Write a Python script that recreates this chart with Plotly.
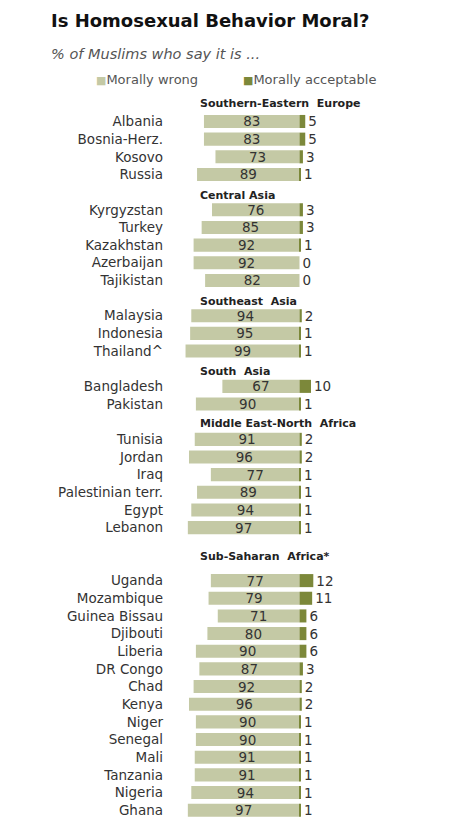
import plotly.graph_objects as go

# regions in display order, and how many countries each one holds
regions = ["Southern-Eastern\u00a0 Europe", "Central Asia", "Southeast\u00a0 Asia",
           "South\u00a0 Asia", "Middle East-North\u00a0 Africa", "Sub-Saharan\u00a0 Africa*"]
region_sizes = [4, 5, 3, 2, 6, 14]

countries = ["Albania", "Bosnia-Herz.", "Kosovo", "Russia",
             "Kyrgyzstan", "Turkey", "Kazakhstan", "Azerbaijan", "Tajikistan",
             "Malaysia", "Indonesia", "Thailand^",
             "Bangladesh", "Pakistan",
             "Tunisia", "Jordan", "Iraq", "Palestinian terr.", "Egypt", "Lebanon",
             "Uganda", "Mozambique", "Guinea Bissau", "Djibouti", "Liberia", "DR Congo",
             "Chad", "Kenya", "Niger", "Senegal", "Mali", "Tanzania", "Nigeria", "Ghana"]
wrong = [83, 83, 73, 89,
         76, 85, 92, 92, 82,
         94, 95, 99,
         67, 90,
         91, 96, 77, 89, 94, 97,
         77, 79, 71, 80, 90, 87, 92, 96, 90, 90, 91, 91, 94, 97]
acceptable = [5, 5, 3, 1,
              3, 3, 1, 0, 0,
              2, 1, 1,
              10, 1,
              2, 2, 1, 1, 1, 1,
              12, 11, 6, 6, 6, 3, 2, 2, 1, 1, 1, 1, 1, 1]

LIGHT = "#c4c9a5"
DARK = "#7c883a"
TXT = "#333333"
FONT = "DejaVu Sans"

# page puts the figure 8px in from the top-left corner, so everything is laid out 8px up/left
L, T = 170, 95          # plot area corner as it appears on the page
PW, PH = 290, 724


def px(x):
    return (x - L) / PW


def py(y):
    return (T + PH - y) / PH


# row slots: one per header, one per country, an extra blank before the last region
extra_gap = [0, 0, 0, 0, 0, 1]
header_lift = [1.0, 0.8, 0.8, 0.82, 0.88, 1.36]
ypos, header_y = [], []
pos = 0
for reg, n, gap, lift in zip(regions, region_sizes, extra_gap, header_lift):
    pos += 1 + gap
    header_y.append(pos - lift)
    for i in range(n):
        ypos.append(pos)
        pos += 1
pos -= 1

fig = go.Figure()
fig.add_trace(go.Bar(
    y=ypos, x=[-v for v in wrong], orientation="h", name="Morally wrong",
    marker=dict(color=LIGHT, line=dict(width=0)),
    text=[str(v) for v in wrong], textposition="inside", insidetextanchor="middle",
    textfont=dict(color=TXT, size=13.5, family=FONT), hoverinfo="skip"))
fig.add_trace(go.Bar(
    y=ypos, x=acceptable, orientation="h", name="Morally acceptable",
    marker=dict(color=DARK, line=dict(width=0)),
    text=[str(v) for v in acceptable], textposition="outside", cliponaxis=False,
    textfont=dict(color=TXT, size=13.5, family=FONT), hoverinfo="skip"))

annotations = []
for reg, hy in zip(regions, header_y):
    annotations.append(dict(text="<b>" + reg + "</b>", x=px(197), y=hy, xref="paper", yref="y",
                            xanchor="left", yanchor="middle", showarrow=False,
                            font=dict(size=11, color="#222222", family=FONT)))

annotations.append(dict(text="<b>Is Homosexual Behavior Moral?</b>", x=px(52), y=py(20),
                        xref="paper", yref="paper", showarrow=False, xanchor="left", yanchor="middle",
                        font=dict(size=18, color="#111111", family=FONT)))
annotations.append(dict(text="<i>% of Muslims who say it is ...</i>", x=px(52), y=py(54),
                        xref="paper", yref="paper", showarrow=False, xanchor="left", yanchor="middle",
                        font=dict(size=14.5, color="#555555", family=FONT)))
annotations.append(dict(text="<span style='color:%s;font-size:11px'>■</span>Morally wrong" % LIGHT,
                        x=px(96), y=py(80), xref="paper", yref="paper", showarrow=False,
                        xanchor="left", yanchor="middle", font=dict(size=13, color="#555555", family=FONT)))
annotations.append(dict(text="<span style='color:%s;font-size:11px'>■</span>Morally acceptable" % DARK,
                        x=px(239), y=py(80), xref="paper", yref="paper", showarrow=False,
                        xanchor="left", yanchor="middle", font=dict(size=13, color="#555555", family=FONT)))

fig.update_layout(
    width=460, height=819,
    margin=dict(l=L - 8, r=460 - 8 - (L - 8) - PW, t=T - 8, b=819 - (T - 8) - PH),
    paper_bgcolor="white", plot_bgcolor="white",
    barmode="relative", bargap=0.26, showlegend=False,
    uniformtext=dict(minsize=13.5, mode="show"),
    annotations=annotations,
)
fig.update_xaxes(range=[-112.5, 146.4], showgrid=False, zeroline=False, showticklabels=False,
                 showline=False, fixedrange=True)
fig.update_yaxes(range=[pos + 0.5, -0.5], tickvals=ypos, ticktext=countries, showgrid=False,
                 zeroline=False, showline=False, ticks="", ticklabelstandoff=6,
                 tickfont=dict(size=13.5, color=TXT, family=FONT))

fig.write_html("out.html")
